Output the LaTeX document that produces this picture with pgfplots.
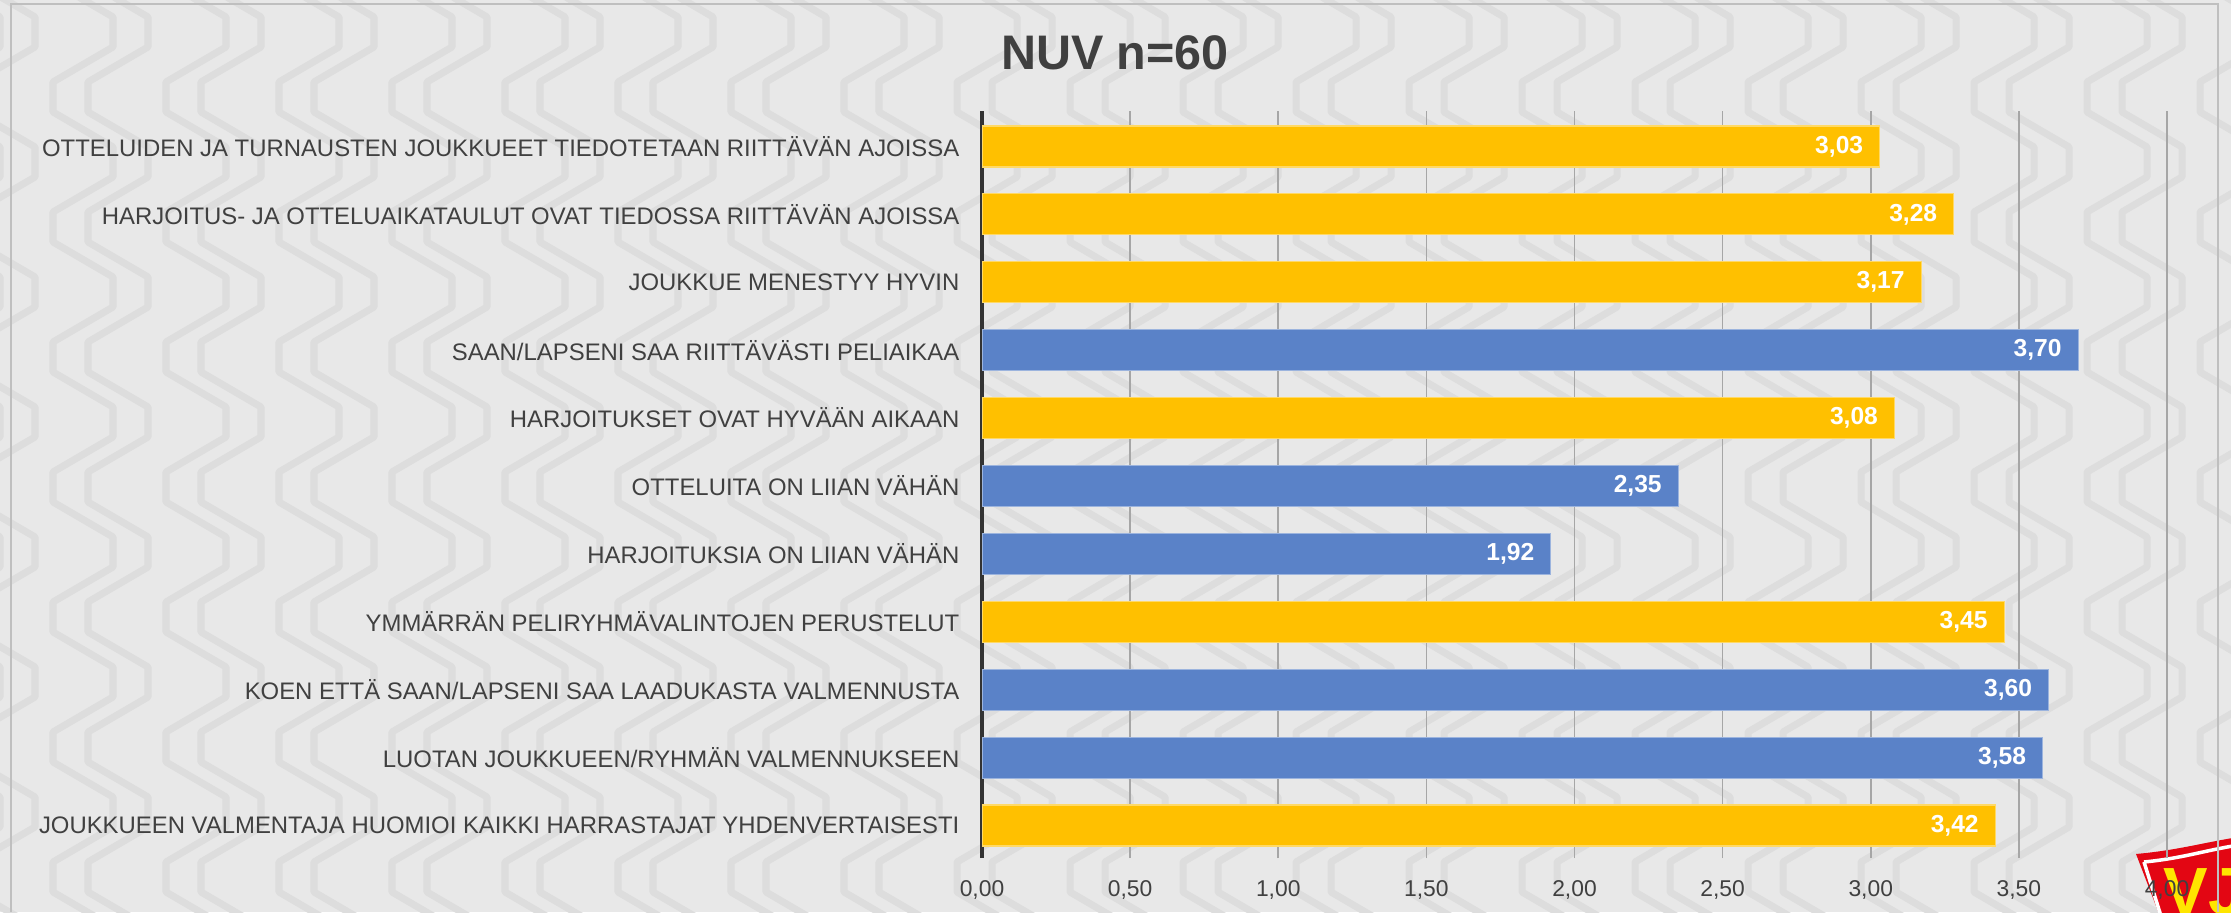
\documentclass[border=0pt]{standalone}
\usepackage{fontspec}
\setmainfont{Liberation Sans}
\usepackage{pgfplots}
\pgfplotsset{compat=1.18}
\definecolor{bgc}{HTML}{E8E8E8}
\definecolor{patc}{HTML}{DDDDDD}
\definecolor{txt}{HTML}{404040}
\definecolor{gold}{HTML}{FFC000}
\definecolor{steel}{HTML}{5A82C8}
\definecolor{gridc}{HTML}{A6A6A6}
\definecolor{logored}{HTML}{E30613}
\definecolor{logoyel}{HTML}{FFE500}

\begin{document}
\begin{tikzpicture}
% background with a rough chevron texture
\fill[bgc] (0,0) rectangle (22.31,9.12);
\useasboundingbox (0,0) rectangle (22.31,9.12);
\begin{scope}
  \clip (0,0) rectangle (22.31,9.12);
  \foreach \c in {0,...,20} {
    \draw[patc, line width=2pt, line join=round]
      ({\c*1.13-0.6}, 9.6)
      \foreach \k in {0,...,8} { -- ++(0,-0.3) -- ++(0.6,-0.35) -- ++(0,-0.3) -- ++(-0.6,-0.35) };
    \draw[patc, line width=2pt, line join=round]
      ({\c*1.13-0.25}, 9.6)
      \foreach \k in {0,...,8} { -- ++(0,-0.3) -- ++(0.6,-0.35) -- ++(0,-0.3) -- ++(-0.6,-0.35) };
  }
  % logo, cut by the page edge
  \fill[logored] (21.36,0.58) .. controls (21.8,0.62) and (22.05,0.70) .. (22.45,0.76)
    -- (22.45,-0.2) -- (21.66,-0.2) -- cycle;
  \draw[white, line width=1pt] (21.44,0.50) .. controls (21.85,0.54) and (22.05,0.62) .. (22.45,0.68)
    (21.44,0.50) -- (21.66,-0.2);
  \node[anchor=north west, inner sep=0pt, text=logoyel, font=\fontsize{19}{19}\selectfont\bfseries]
    at (21.63,0.45) {VJS};
\end{scope}
% chart frame
\draw[black!25, line width=0.6pt] (0.11,0) -- (0.11,9.08) -- (22.18,9.08) -- (22.18,0);
% title
\node[anchor=base, text=txt, font=\fontsize{13.8}{14}\selectfont\bfseries] at (11.15,8.42) {NUV n=60};

\begin{axis}[
  at={(9.82cm,0.54cm)}, anchor=south west,
  width=11.85cm, height=7.47cm, scale only axis,
  xbar, bar width=0.41cm, bar shift=0pt,
  xmin=0, xmax=4, ymin=0.521, ymax=11.523,
  xtick={0,0.5,...,4},
  ytick={1,...,11},
  yticklabels={
    {JOUKKUEEN VALMENTAJA HUOMIOI KAIKKI HARRASTAJAT YHDENVERTAISESTI},
    {LUOTAN JOUKKUEEN/RYHMÄN VALMENNUKSEEN},
    {KOEN ETTÄ SAAN/LAPSENI SAA LAADUKASTA VALMENNUSTA},
    {YMMÄRRÄN PELIRYHMÄVALINTOJEN PERUSTELUT},
    {HARJOITUKSIA ON LIIAN VÄHÄN},
    {OTTELUITA ON LIIAN VÄHÄN},
    {HARJOITUKSET OVAT HYVÄÄN AIKAAN},
    {SAAN/LAPSENI SAA RIITTÄVÄSTI PELIAIKAA},
    {JOUKKUE MENESTYY HYVIN},
    {HARJOITUS- JA OTTELUAIKATAULUT OVAT TIEDOSSA RIITTÄVÄN AJOISSA},
    {OTTELUIDEN JA TURNAUSTEN JOUKKUEET TIEDOTETAAN RIITTÄVÄN AJOISSA}},
  axis lines*=left,
  x axis line style={draw=none},
  y axis line style={draw=black!80, line width=0.95pt},
  major tick length=0pt,
  xmajorgrids, grid style={gridc, line width=0.45pt},
  yticklabel style={font=\fontsize{6.8}{7}\selectfont, text=txt, inner sep=0pt, xshift=-0.22cm},
  xticklabel style={font=\fontsize{6.5}{7}\selectfont, text=txt, inner sep=0pt, yshift=-0.22cm},
  /pgf/number format/.cd, fixed, fixed zerofill, precision=2, use comma, assume math mode=true,
  /pgfplots/.cd,
  point meta=x,
  nodes near coords={\pgfmathprintnumber[fixed,fixed zerofill,precision=2,use comma]{\pgfplotspointmeta}},
  nodes near coords style={anchor=east, text=white, font=\fontsize{7}{7}\selectfont\bfseries, inner sep=0pt, xshift=-0.16cm},
]
\addplot[fill=gold, draw=gold!60!white, line width=0.3pt]
  coordinates {(3.03,11) (3.28,10) (3.17,9) (3.08,7) (3.45,4) (3.42,1)};
\addplot[fill=steel, draw=steel!60!white, line width=0.3pt]
  coordinates {(3.70,8) (2.35,6) (1.92,5) (3.60,3) (3.58,2)};
\end{axis}
\end{tikzpicture}
\end{document}
